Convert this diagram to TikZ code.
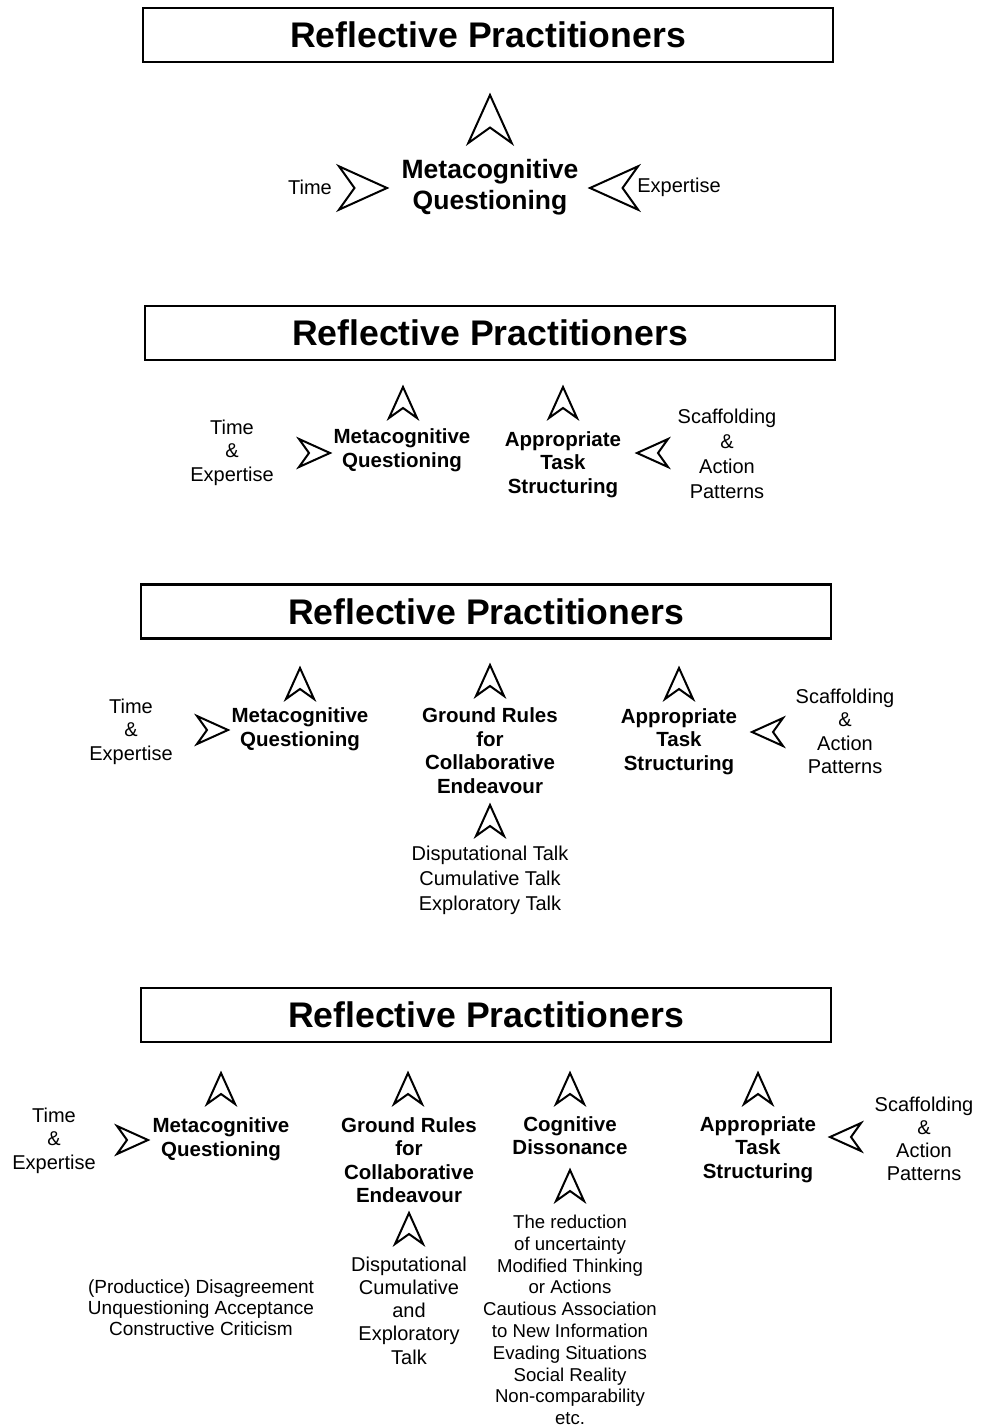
\documentclass[tikz,border=0pt]{standalone}
\usepackage{fontspec}
\setmainfont{Liberation Sans}
\usetikzlibrary{calc}

\begin{document}
\begin{tikzpicture}[x=1pt,y=-1pt]
    % Styles
    \tikzset{titre/.style={draw, line width=2.8pt, minimum width=690pt, minimum height=54pt, inner sep=0pt, font=\fontsize{35.6}{40}\selectfont\bfseries}}%
    \tikzset{concept/.style={align=center, inner sep=0pt, font=\fontsize{20.5}{23.5}\selectfont\bfseries}}%
    \tikzset{facteur/.style={align=center, inner sep=0pt, font=\fontsize{20}{23.5}\selectfont}}%
    \tikzset{liste/.style={align=center, inner sep=0pt, font=\fontsize{18.6}{21.8}\selectfont}}%
    \tikzset{dart/.pic={\draw[line width=2pt, line join=miter, fill=white] (0,0) -- (-31,14) -- (-21,0) -- (-31,-14) -- cycle;}}%

    % Cadre
    \useasboundingbox (0,0) rectangle (980,1426);%

    % Etape 1
    \node[titre] (titre1) at (488,35) {Reflective Practitioners};%
    \node[concept, font=\fontsize{26.5}{31}\selectfont\bfseries] (mq1) at (490,187.5) {Metacognitive\\Questioning};%
    \node[facteur] (time1) at (310,187) {Time};%
    \node[facteur] (exp1) at (679,187) {Expertise};%
    \path (490,95) pic[rotate=90, scale=1.55] {dart};%
    \path (387,188) pic[scale=1.55] {dart};%
    \path (590,188) pic[rotate=180, scale=1.55] {dart};%

    % Etape 2
    \node[titre] (titre2) at (490,333) {Reflective Practitioners};%
    \node[facteur] (te2) at (232,452.5) {Time\\\&\\Expertise};%
    \node[concept] (mq2) at (402,450) {Metacognitive\\Questioning};%
    \node[concept] (ats2) at (563,464.5) {Appropriate\\Task\\Structuring};%
    \node[facteur, font=\fontsize{20}{25}\selectfont] (sap2) at (727,453.5) {Scaffolding\\\&\\Action\\Patterns};%
    \path (403,387) pic[rotate=90] {dart};%
    \path (563,387) pic[rotate=90] {dart};%
    \path (330,453) pic {dart};%
    \path (637,453) pic[rotate=180] {dart};%

    % Etape 3
    \node[titre] (titre3) at (486,611.5) {Reflective Practitioners};%
    \node[facteur] (te3) at (131,731.5) {Time\\\&\\Expertise};%
    \node[concept] (mq3) at (300,729) {Metacognitive\\Questioning};%
    \node[concept] (gr3) at (490,750.5) {Ground Rules\\for\\Collaborative\\Endeavour};%
    \node[concept] (ats3) at (679,741.5) {Appropriate\\Task\\Structuring};%
    \node[facteur] (sap3) at (845,731.5) {Scaffolding\\\&\\Action\\Patterns};%
    \node[facteur, font=\fontsize{20}{25}\selectfont] (talk3) at (490,880) {Disputational Talk\\Cumulative Talk\\Exploratory Talk};%
    \path (300,668) pic[rotate=90] {dart};%
    \path (490,665) pic[rotate=90] {dart};%
    \path (679,668) pic[rotate=90] {dart};%
    \path (490,805) pic[rotate=90] {dart};%
    \path (228,730) pic {dart};%
    \path (752,732) pic[rotate=180] {dart};%

    % Etape 4
    \node[titre] (titre4) at (486,1015) {Reflective Practitioners};%
    \node[facteur] (te4) at (54,1140.5) {Time\\\&\\Expertise};%
    \node[concept] (mq4) at (221,1139) {Metacognitive\\Questioning};%
    \node[concept] (gr4) at (409,1160) {Ground Rules\\for\\Collaborative\\Endeavour};%
    \node[concept] (cd4) at (570,1135.5) {Cognitive\\Dissonance};%
    \node[concept] (ats4) at (758,1149.5) {Appropriate\\Task\\Structuring};%
    \node[facteur, font=\fontsize{20}{23}\selectfont] (sap4) at (924,1138.5) {Scaffolding\\\&\\Action\\Patterns};%
    \node[liste, font=\fontsize{19}{21}\selectfont] (dis4) at (201,1308) {(Productice) Disagreement\\Unquestioning Acceptance\\Constructive Criticism};%
    \node[facteur, font=\fontsize{20}{23.25}\selectfont] (talk4) at (409,1310.5) {Disputational\\Cumulative\\and\\Exploratory\\Talk};%
    \node[liste] (cdl4) at (570,1320) {The reduction\\of uncertainty\\Modified Thinking\\or Actions\\Cautious Association\\to New Information\\Evading Situations\\Social Reality\\Non-comparability\\etc.};%
    \path (221,1073) pic[rotate=90] {dart};%
    \path (408,1073) pic[rotate=90] {dart};%
    \path (570,1073) pic[rotate=90] {dart};%
    \path (758,1073) pic[rotate=90] {dart};%
    \path (409,1213) pic[rotate=90] {dart};%
    \path (570,1170) pic[rotate=90] {dart};%
    \path (148,1140) pic {dart};%
    \path (830,1137) pic[rotate=180] {dart};%
\end{tikzpicture}
\end{document}
